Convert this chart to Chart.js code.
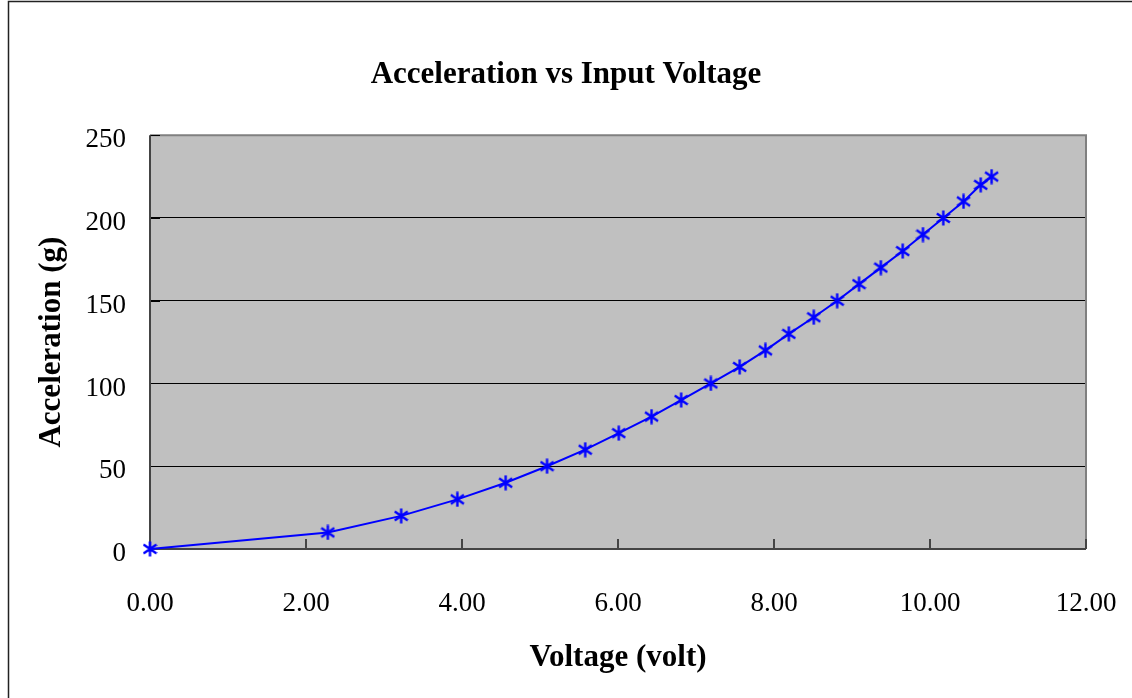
<!DOCTYPE html>
<html>
<head>
<meta charset="utf-8">
<script src="https://cdn.jsdelivr.net/npm/chart.js@4.4.1/dist/chart.umd.min.js"></script>
<style>
  html, body { margin: 0; padding: 0; background: #fff; }
  #wrap { width: 1132px; height: 698px; position: relative; }
</style>
</head>
<body>
<div id="wrap"><canvas id="accel-chart"></canvas></div>
<script>
// readings taken off the reference plot
const VOLTS = [0, 2.28, 3.22, 3.94, 4.56, 5.09, 5.58, 6.01, 6.43, 6.81, 7.19, 7.56,
  7.89, 8.19, 8.51, 8.81, 9.09, 9.37, 9.65, 9.91, 10.17, 10.43, 10.65, 10.79];
const ACCEL = [0, 10, 20, 30, 40, 50, 60, 70, 80, 90, 100, 110,
  120, 130, 140, 150, 160, 170, 180, 190, 200, 210, 220, 225];

const TITLE = 'Acceleration vs Input Voltage';
const X_LABEL = 'Voltage (volt)';
const Y_LABEL = 'Acceleration (g)';

const SERIF = "'Liberation Serif', 'Times New Roman', serif";

// excel style star marker: an X with a vertical bar
const makeStar = () => {
  const c = document.createElement('canvas');
  c.width = 15;
  c.height = 16;
  const g = c.getContext('2d');
  g.strokeStyle = '#0000FF';
  g.lineWidth = 2.4;
  g.beginPath();
  g.moveTo(7.5, 0.5); g.lineTo(7.5, 15.5);
  g.moveTo(1, 3.5); g.lineTo(14, 12.5);
  g.moveTo(14, 3.5); g.lineTo(1, 12.5);
  g.stroke();
  return c;
};

const plotFrame = {
  id: 'plotFrame',
  beforeDraw(chart) {
    const { ctx, chartArea: a } = chart;
    ctx.save();
    ctx.fillStyle = '#fff';
    ctx.fillRect(0, 0, chart.width, chart.height);
    ctx.strokeStyle = '#222';
    ctx.lineWidth = 1.5;
    ctx.strokeRect(8.5, 1.5, 1300, 900);
    ctx.fillStyle = '#C0C0C0';
    ctx.fillRect(a.left, a.top, a.right - a.left, a.bottom - a.top);
    ctx.restore();
  },
  beforeDatasetsDraw(chart) {
    const { ctx, chartArea: a, scales } = chart;
    ctx.save();
    // top and right edges of the plot area
    ctx.strokeStyle = '#808080';
    ctx.lineWidth = 2;
    ctx.beginPath();
    ctx.moveTo(a.left, a.top); ctx.lineTo(a.right, a.top); ctx.lineTo(a.right, a.bottom);
    ctx.stroke();
    // inner tick marks
    ctx.strokeStyle = '#444';
    ctx.lineWidth = 2;
    ctx.beginPath();
    scales.x.ticks.forEach(t => {
      if (t.value === 0) return;
      const px = Math.round(scales.x.getPixelForValue(t.value));
      ctx.moveTo(px, a.bottom); ctx.lineTo(px, a.bottom - 10);
    });
    ctx.stroke();
    ctx.strokeStyle = '#000';
    ctx.lineWidth = 1;
    ctx.beginPath();
    scales.y.ticks.forEach(t => {
      if (t.value === 0) return;
      const py = Math.round(scales.y.getPixelForValue(t.value)) + 0.5;
      ctx.moveTo(a.left, py); ctx.lineTo(a.left + 10, py);
    });
    ctx.stroke();
    // left and bottom axis lines
    ctx.strokeStyle = '#444';
    ctx.lineWidth = 2;
    ctx.beginPath();
    ctx.moveTo(a.left, a.top); ctx.lineTo(a.left, a.bottom); ctx.lineTo(a.right, a.bottom);
    ctx.stroke();
    ctx.restore();
  }
};

const createChart = () => {
  const star = makeStar();
  return new Chart(document.getElementById('accel-chart'), {
    type: 'scatter',
    data: {
      datasets: [{
        data: VOLTS.map((v, i) => ({ x: v, y: ACCEL[i] })),
        showLine: true,
        borderColor: '#0000FF',
        borderWidth: 2,
        pointStyle: star,
        pointRadius: 7,
        clip: false
      }]
    },
    options: {
      responsive: true,
      maintainAspectRatio: false,
      animation: false,
      events: [],
      layout: { padding: 0 },
      plugins: {
        legend: { display: false },
        tooltip: { enabled: false },
        title: {
          display: true,
          text: TITLE,
          color: '#000',
          font: { family: SERIF, size: 31, weight: 'bold' },
          padding: { top: 56, bottom: 42 }
        }
      },
      scales: {
        x: {
          type: 'linear',
          min: 0,
          max: 12,
          afterFit: (s) => {
            s.height = 149;
            s.paddingLeft = 0;
            s.paddingRight = 0;
          },
          ticks: {
            stepSize: 2,
            color: '#000',
            padding: 31,
            maxRotation: 0,
            font: { family: SERIF, size: 27 },
            callback: (v) => Number(v).toFixed(2)
          },
          grid: { display: false },
          border: { display: false },
          title: {
            display: true,
            text: X_LABEL,
            color: '#000',
            font: { family: SERIF, size: 31, weight: 'bold' },
            padding: { top: 0, bottom: 21 }
          }
        },
        y: {
          type: 'linear',
          min: 0,
          max: 250,
          afterFit: (s) => {
            s.width = 150;
            s.paddingTop = 0;
            s.paddingBottom = 0;
          },
          ticks: {
            stepSize: 50,
            color: '#000',
            padding: 24,
            labelOffset: 5,
            font: { family: SERIF, size: 27 }
          },
          grid: {
            drawTicks: false,
            lineWidth: 1,
            color: (c) => (c.tick && (c.tick.value === 0 || c.tick.value === 250)) ? 'rgba(0,0,0,0)' : '#000'
          },
          border: { display: false },
          title: {
            display: true,
            text: Y_LABEL,
            color: '#000',
            font: { family: SERIF, size: 31, weight: 'bold' },
            padding: { top: 33, bottom: 0 }
          }
        },
        // empty right-hand box, only reserves the white margin beside the plot
        gap: {
          type: 'linear',
          position: 'right',
          afterFit: (s) => {
            s.width = 46;
            s.paddingTop = 0;
            s.paddingBottom = 0;
          },
          ticks: { display: false },
          grid: { display: false },
          border: { display: false }
        }
      }
    },
    plugins: [plotFrame]
  });
};

const CHART = createChart();
</script>
</body>
</html>
